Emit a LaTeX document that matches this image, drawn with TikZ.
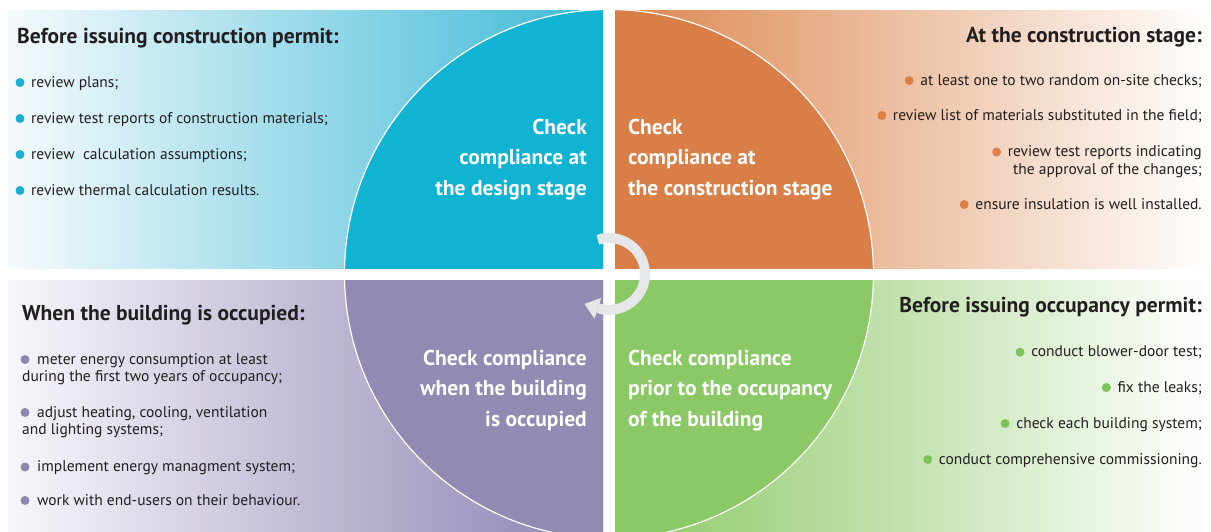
\documentclass[tikz,border=0pt]{standalone}
\usepackage{fontspec}
\setmainfont{PT Sans}
\definecolor{txt}{HTML}{231F20}
\definecolor{cyanc}{HTML}{10B3D1}
\definecolor{cyanbg}{HTML}{3DB9D7}
\definecolor{cyanl}{HTML}{F5FAFC}
\definecolor{cyand}{HTML}{1AB0D4}
\definecolor{orc}{HTML}{D97E46}
\definecolor{orbg}{HTML}{DC864F}
\definecolor{ord}{HTML}{DD8048}
\definecolor{puc}{HTML}{918AB3}
\definecolor{pubg}{HTML}{8C82B2}
\definecolor{pul}{HTML}{F7F6FA}
\definecolor{pud}{HTML}{8F86B0}
\definecolor{grc}{HTML}{8BC866}
\definecolor{grbg}{HTML}{8CC866}
\definecolor{grd}{HTML}{7CC35A}
\definecolor{arrowgray}{HTML}{E6E7E8}
\tikzset{
  bul/.style={anchor=base west, inner sep=0pt, font=\fontsize{15.5}{18}\selectfont, text=txt},
  bulr/.style={anchor=base east, inner sep=0pt, font=\fontsize{15.5}{18}\selectfont, text=txt},
  head/.style={inner sep=0pt, font=\bfseries\fontsize{21.5}{25}\selectfont, text=txt},
  ctr/.style={inner sep=0pt, font=\bfseries\fontsize{21.5}{25}\selectfont, text=white},
  bdot/.style={circle, inner sep=0pt, minimum size=9pt},
  ring/.style={draw=white, line width=1.2pt}
}
\begin{document}
\begin{tikzpicture}[x=1pt,y=-1pt]
\useasboundingbox (0,0) rectangle (1211,531);
\fill[white] (0,0) rectangle (1211,531);
\coordinate (c) at (609,274);
% top-left
\begin{scope}
\clip (8,10) rectangle (603,268);
\shade[left color=cyanl, right color=cyanbg] (8,10) rectangle (603,268);
\fill[cyanc, ring] (c) circle[radius=264.5];
\end{scope}
% top-right
\begin{scope}
\clip (615,10) rectangle (1211,268);
\shade[left color=orbg, right color=white] (615,10) rectangle (1211,268);
\fill[orc, ring] (c) circle[radius=264.5];
\end{scope}
% bottom-left
\begin{scope}
\clip (8,280) rectangle (603,531);
\shade[left color=pul, right color=pubg] (8,280) rectangle (603,531);
\fill[puc, ring] (c) circle[radius=264.5];
\end{scope}
% bottom-right
\begin{scope}
\clip (615,280) rectangle (1211,531);
\shade[left color=grbg, right color=white] (615,280) rectangle (1211,531);
\fill[grc, ring] (c) circle[radius=264.5];
\end{scope}
% circular arrow
\draw[arrowgray, line width=10pt] ([shift={(-108:36)}]c) arc[start angle=-108, end angle=108, radius=36];
\fill[arrowgray] ([shift={(108:25)}]c) -- ([shift={(108:36)},shift={(198:14)}]c) -- ([shift={(108:47)}]c) -- cycle;

% centre texts
\node[ctr, anchor=base east] (tl1) at (587,134) {Check};
\node[ctr, anchor=base east] (tl2) at (587,164.5) {compliance at};
\node[ctr, anchor=base east] (tl3) at (587,195) {the design stage};
\node[ctr, anchor=base west] (tr1) at (628,134) {Check};
\node[ctr, anchor=base west] (tr2) at (628,164.5) {compliance at};
\node[ctr, anchor=base west] (tr3) at (628,195) {the construction stage};
\node[ctr, anchor=base east] (bl1) at (587,365) {Check compliance};
\node[ctr, anchor=base east] (bl2) at (587,395.5) {when the building};
\node[ctr, anchor=base east] (bl3) at (587,426) {is occupied};
\node[ctr, anchor=base west] (br1) at (628,365) {Check compliance};
\node[ctr, anchor=base west] (br2) at (628,395.5) {prior to the occupancy};
\node[ctr, anchor=base west] (br3) at (628,426) {of the building};

% headings
\node[head, anchor=base west] (h1) at (17,43) {Before issuing construction permit:};
\node[head, anchor=base east] (h2) at (1202,42) {At the construction stage:};
\node[head, anchor=base west] (h3) at (22,320) {When the building is occupied:};
\node[head, anchor=base east] (h4) at (1202,312.7) {Before issuing occupancy permit:};

% top-left bullets
\node[bul] (a1) at (31,87) {review plans;};
\node[bul] (a2) at (31,123) {review test reports of construction materials;};
\node[bul] (a3) at (31,159) {review\ \ calculation assumptions;};
\node[bul] (a4) at (31,195) {review thermal calculation results.};
\foreach \n in {a1,a2,a3,a4}{\node[bdot, fill=cyand] (d\n) at ([shift={(-11,-4.5)}]\n.base west) {};}

% top-right bullets
\node[bulr] (b1) at (1202,85) {at least one to two random on-site checks;};
\node[bulr] (b2) at (1202,120) {review list of materials substituted in the field;};
\node[bulr] (b3) at (1202,156.5) {review test reports indicating};
\node[bulr] (b3b) at (1202,174) {the approval of the changes;};
\node[bulr] (b4) at (1202,209) {ensure insulation is well installed.};
\foreach \n in {b1,b2,b3,b4}{\node[bdot, fill=ord] (d\n) at ([shift={(-11,-4.5)}]\n.base west) {};}

% bottom-left bullets
\node[bul] (c1) at (37,364) {meter energy consumption at least};
\node[bul] (c1b) at (22,381.5) {during the first two years of occupancy;};
\node[bul] (c2) at (37,417) {adjust heating, cooling, ventilation};
\node[bul] (c2b) at (22,434.5) {and lighting systems;};
\node[bul] (c3) at (37,471.5) {implement energy managment system;};
\node[bul] (c4) at (37,505) {work with end-users on their behaviour.};
\foreach \n in {c1,c2,c3,c4}{\node[bdot, fill=pud] (d\n) at ([shift={(-12,-4.5)}]\n.base west) {};}

% bottom-right bullets
\node[bulr] (e1) at (1202,356.7) {conduct blower-door test;};
\node[bulr] (e2) at (1202,392) {fix the leaks;};
\node[bulr] (e3) at (1202,428) {check each building system;};
\node[bulr] (e4) at (1202,464) {conduct comprehensive commissioning.};
\foreach \n in {e1,e2,e3,e4}{\node[bdot, fill=grd] (d\n) at ([shift={(-11,-4.5)}]\n.base west) {};}
\end{tikzpicture}
\end{document}
